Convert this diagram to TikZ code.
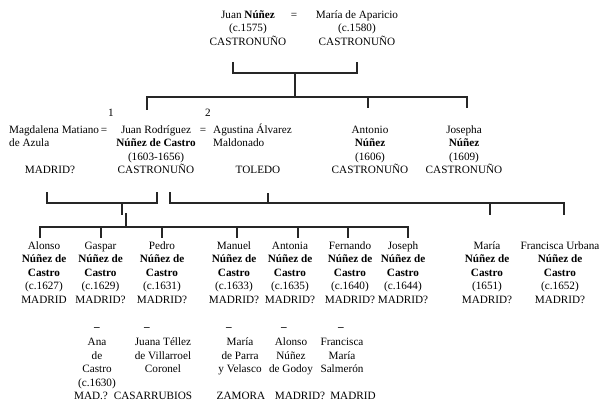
\documentclass[tikz,border=0pt]{standalone}
\usepackage{fontspec}
\setmainfont{Liberation Serif}
\begin{document}
\begin{tikzpicture}[x=1pt,y=-1pt,
        person/.style={align=center,anchor=base,inner sep=0pt,font=\fontsize{11.2}{13.5}\selectfont},
        spouse/.style={person,align=left,anchor=base west},
        link/.style={line width=1.2pt,black!85}]
                \useasboundingbox (0,0) rectangle (603,404);
                %% parents (nodes are placed by their last line)
                \node[person] (JN) at (248,45.5) {Juan \textbf{Núñez}\\(c.1575)\\CASTRONUÑO};
                \node[person] (eqA) at (294,18.5) {=};
                \node[person] (MA) at (357,45.5) {María de Aparicio\\(c.1580)\\CASTRONUÑO};
                \coordinate (pL) at (233,62);
                \coordinate (pR) at (357,62);
                \coordinate (pM) at (295,73);
                \coordinate (sib) at (295,97);
                \draw[link] (pL) |- (pM) -| (pR);
                \draw[link] (pM) -- (sib);
                %% siblings
                \coordinate (dJR) at (147,110);
                \coordinate (dAN) at (368,108);
                \coordinate (dJO) at (467,108);
                \draw[link] (dJR) |- (sib) -| (dJO);
                \draw[link] (sib -| dAN) -- (dAN);
                \node[person] (n1) at (111,117) {1};
                \node[person] (n2) at (208,117) {2};
                \node[spouse] (MM) at (9,146.5) {Magdalena Matiano\\de Azula};
                \node[person] (MMp) at (50,173.5) {MADRID?};
                \node[person] (eqB) at (104,133) {=};
                \node[person] (JR) at (156,173.5) {Juan Rodríguez\\\textbf{Núñez de Castro}\\(1603-1656)\\CASTRONUÑO};
                \node[person] (eqC) at (203,133) {=};
                \node[spouse] (AA) at (213,146.5) {Agustina Álvarez\\Maldonado};
                \node[person] (AAp) at (258,173.5) {TOLEDO};
                \node[person] (AN) at (370,173.5) {Antonio\\\textbf{Núñez}\\(1606)\\CASTRONUÑO};
                \node[person] (JO) at (464,173.5) {Josepha\\\textbf{Núñez}\\(1609)\\CASTRONUÑO};
                %% first marriage
                \coordinate (m1L) at (47,192);
                \coordinate (m1R) at (157,192);
                \coordinate (m1) at (122,203);
                \coordinate (m1S) at (122,215);
                \coordinate (k1T) at (126,213);
                \coordinate (k1) at (126,227);
                \draw[link] (m1L) |- (m1) -| (m1R);
                \draw[link] (m1) -- (m1S);
                \draw[link] (k1T) -- (k1);
                \coordinate (dAl) at (40,238);
                \coordinate (dGa) at (101,238);
                \coordinate (dPe) at (162,238);
                \coordinate (dMn) at (237,238);
                \coordinate (dAt) at (298,238);
                \coordinate (dFe) at (348,238);
                \coordinate (dJs) at (408,238);
                \draw[link] (dAl) |- (k1) -| (dJs);
                \draw[link] (dGa |- k1) -- (dGa);
                \draw[link] (dPe |- k1) -- (dPe);
                \draw[link] (dMn |- k1) -- (dMn);
                \draw[link] (dAt |- k1) -- (dAt);
                \draw[link] (dFe |- k1) -- (dFe);
                %% second marriage
                \coordinate (m2L) at (170,192);
                \coordinate (m2T) at (268,193);
                \coordinate (m2) at (268,203);
                \coordinate (dMr) at (490,215);
                \coordinate (dFU) at (564,215);
                \draw[link] (m2L) |- (m2) -| (dFU);
                \draw[link] (m2T) -- (m2);
                \draw[link] (dMr |- m2) -- (dMr);
                %% children
                \node[person] (Al) at (44,303) {Alonso\\\textbf{Núñez de}\\\textbf{Castro}\\(c.1627)\\MADRID};
                \node[person] (Ga) at (100.5,303) {Gaspar\\\textbf{Núñez de}\\\textbf{Castro}\\(c.1629)\\MADRID?};
                \node[person] (Pe) at (162,303) {Pedro\\\textbf{Núñez de}\\\textbf{Castro}\\(c.1631)\\MADRID?};
                \node[person] (Mn) at (234,303) {Manuel\\\textbf{Núñez de}\\\textbf{Castro}\\(c.1633)\\MADRID?};
                \node[person] (At) at (290,303) {Antonia\\\textbf{Núñez de}\\\textbf{Castro}\\(c.1635)\\MADRID?};
                \node[person] (Fe) at (350,303) {Fernando\\\textbf{Núñez de}\\\textbf{Castro}\\(c.1640)\\MADRID?};
                \node[person] (Js) at (403,303) {Joseph\\\textbf{Núñez de}\\\textbf{Castro}\\(c.1644)\\MADRID?};
                \node[person] (Mr) at (487,303) {María\\\textbf{Núñez de}\\\textbf{Castro}\\(1651)\\MADRID?};
                \node[person] (FU) at (560,303) {Francisca Urbana\\\textbf{Núñez de}\\\textbf{Castro}\\(c.1652)\\MADRID?};
                %% their spouses
                \node[person] (eGa) at (97,330) {\textbf{–}};
                \node[person] (ePe) at (147,330) {\textbf{–}};
                \node[person] (eMn) at (229,330) {\textbf{–}};
                \node[person] (eAt) at (284,330) {\textbf{–}};
                \node[person] (eFe) at (341,330) {\textbf{–}};
                \node[person] (sGa) at (97,386) {Ana\\de\\Castro\\(c.1630)};
                \node[person] (sPe) at (163,372.5) {Juana Téllez\\de Villarroel\\Coronel};
                \node[person] (sMn) at (240,372.5) {María\\de Parra\\y Velasco};
                \node[person] (sAt) at (291,372.5) {Alonso\\Núñez\\de Godoy};
                \node[person] (sFe) at (342,372.5) {Francisca\\María\\Salmerón};
                \node[person] (pGa) at (91,399) {MAD.?};
                \node[person] (pPe) at (153,399) {CASARRUBIOS};
                \node[person] (pMn) at (241,399) {ZAMORA};
                \node[person] (pAt) at (300,399) {MADRID?};
                \node[person] (pFe) at (353,399) {MADRID};
\end{tikzpicture}
\end{document}
